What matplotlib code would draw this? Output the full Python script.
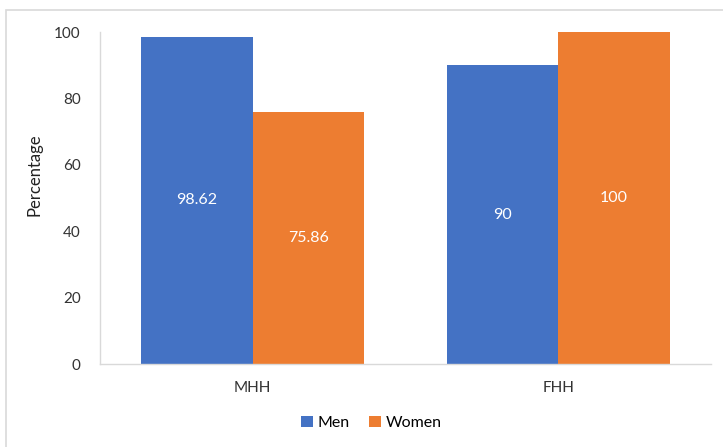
import matplotlib.pyplot as plt
import numpy as np
from matplotlib.patches import Rectangle

categories = ["MHH", "FHH"]
series_names = ["Men", "Women"]
men = [98.62, 90]
women = [75.86, 100]
value_labels = [["98.62", "90"], ["75.86", "100"]]
y_ticks = [0, 20, 40, 60, 80, 100]

COLORS = ["#4472C4", "#ED7D31"]
GRAY = "#D9D9D9"

plt.rcParams.update({"font.family": ["Lato", "DejaVu Sans"], "font.size": 11})

fig = plt.figure(figsize=(7.23, 4.47), dpi=100)
ax = fig.add_axes([100 / 723, 83 / 447, 611 / 723, 332 / 447])

# chart area border (Excel style)
fig.patches.append(Rectangle((6 / 723, -0.05), 1.2, (437 / 447) + 0.05,
                             transform=fig.transFigure, fill=False,
                             edgecolor=GRAY, linewidth=1.2))

x = np.arange(len(categories))
width = 0.365
for i, (name, vals) in enumerate(zip(series_names, [men, women])):
    pos = x + (i - 0.5) * width
    bars = ax.bar(pos, vals, width, color=COLORS[i], label=name)
    for b, txt in zip(bars, value_labels[i]):
        ax.text(b.get_x() + b.get_width() / 2, b.get_height() / 2, txt,
                ha="center", va="center", color="white", fontsize=11.5)

ax.set_xlim(-0.5, 1.5)
ax.set_ylim(0, 100)
ax.set_xticks(x)
ax.set_xticklabels(categories, color="#333333")
ax.set_yticks(y_ticks)
ax.tick_params(axis="both", length=0, labelcolor="#333333", labelsize=11)
ax.tick_params(axis="y", pad=14)
ax.tick_params(axis="x", pad=12)
ax.set_ylabel("Percentage", fontsize=12, color="#222222")
ax.yaxis.set_label_coords(-57 / 611, (364 - 175) / 332)

for side in ["top", "right"]:
    ax.spines[side].set_visible(False)
for side in ["left", "bottom"]:
    ax.spines[side].set_color(GRAY)
    ax.spines[side].set_linewidth(1.0)

fig.legend(loc="center", bbox_to_anchor=(371 / 723, 24 / 447), ncol=2,
           frameon=False, handlelength=0.75, handleheight=0.75,
           handletextpad=0.3, columnspacing=1.2, fontsize=11.5)

fig.savefig("out.png", dpi=100)
